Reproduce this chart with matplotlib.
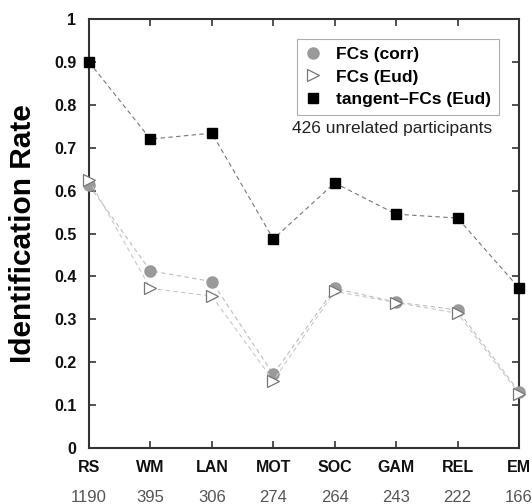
import matplotlib
matplotlib.use("Agg")
import matplotlib.pyplot as plt

plt.rcParams['font.family'] = ['Liberation Sans', 'DejaVu Sans']

tasks = ["RS", "WM", "LAN", "MOT", "SOC", "GAM", "REL", "EM"]
counts = ["1190", "395", "306", "274", "264", "243", "222", "166"]
fc_corr = [0.613, 0.413, 0.388, 0.172, 0.372, 0.340, 0.322, 0.131]
fc_eud = [0.625, 0.372, 0.354, 0.157, 0.365, 0.339, 0.314, 0.127]
tangent_eud = [0.900, 0.720, 0.734, 0.487, 0.618, 0.545, 0.536, 0.373]

fig = plt.figure(figsize=(5.32, 5.04), dpi=100)
ax = fig.add_axes([89/532, 56/504, 430/532, 429/504])
x = list(range(len(tasks)))

ax.plot(x, fc_corr, ls=(0, (4, 3)), lw=0.8, color="#bdbdbd", marker="o", ms=8,
        mfc="#9a9a9a", mec="#9a9a9a", label="FCs (corr)", clip_on=False, zorder=3)
ax.plot(x, fc_eud, ls=(0, (4, 3)), lw=0.8, color="#c8c8c8", marker=">", ms=9,
        mfc="white", mec="#777777", mew=0.9, label="FCs (Eud)", clip_on=False, zorder=4)
ax.plot(x, tangent_eud, ls=(0, (4, 3)), lw=0.8, color="#777777", marker="s", ms=7,
        mfc="black", mec="black", label="tangent\u2013FCs (Eud)", clip_on=False, zorder=5)

ax.set_xlim(0, len(tasks) - 1)
ax.set_ylim(0, 1)
ax.set_yticks([i / 10 for i in range(11)])
ax.set_yticklabels(["0"] + [f"{i/10:.1f}" for i in range(1, 10)] + ["1"])
ax.set_xticks(x)
ax.set_xticklabels(tasks)
for lbl in ax.get_xticklabels() + ax.get_yticklabels():
    lbl.set_fontweight("bold")
    lbl.set_fontsize(11.5)
    lbl.set_color("#111111")
ax.tick_params(direction="in", length=5, width=1.2, color="#333333",
               top=True, right=True)
ax.tick_params(axis="y", pad=9)
ax.tick_params(axis="x", pad=9)
for s in ax.spines.values():
    s.set_linewidth(1.5)
    s.set_color("#333333")

for xi, c in zip(x, counts):
    ax.annotate(c, xy=(xi, 0), xycoords=("data", "axes fraction"),
                xytext=(0, -36), textcoords="offset points",
                ha="center", va="center", fontsize=12, color="#555555",
                annotation_clip=False)

ax.set_ylabel("Identification Rate", fontsize=21.5, fontweight="bold", labelpad=12)

leg = ax.legend(loc="upper right", bbox_to_anchor=(0.953, 0.953), frameon=True,
                fancybox=False, edgecolor="#999999", prop={"weight": "bold", "size": 12.5},
                handlelength=1.0, handletextpad=0.8, borderpad=0.45, labelspacing=0.42,
                borderaxespad=0)
leg.get_frame().set_linewidth(0.8)
for h in leg.legend_handles:
    h.set_linestyle("none")

ax.text(0.705, 0.745, "426 unrelated participants", transform=ax.transAxes,
        ha="center", va="center", fontsize=12.5, color="#222222")

fig.savefig("out.png", dpi=100)
